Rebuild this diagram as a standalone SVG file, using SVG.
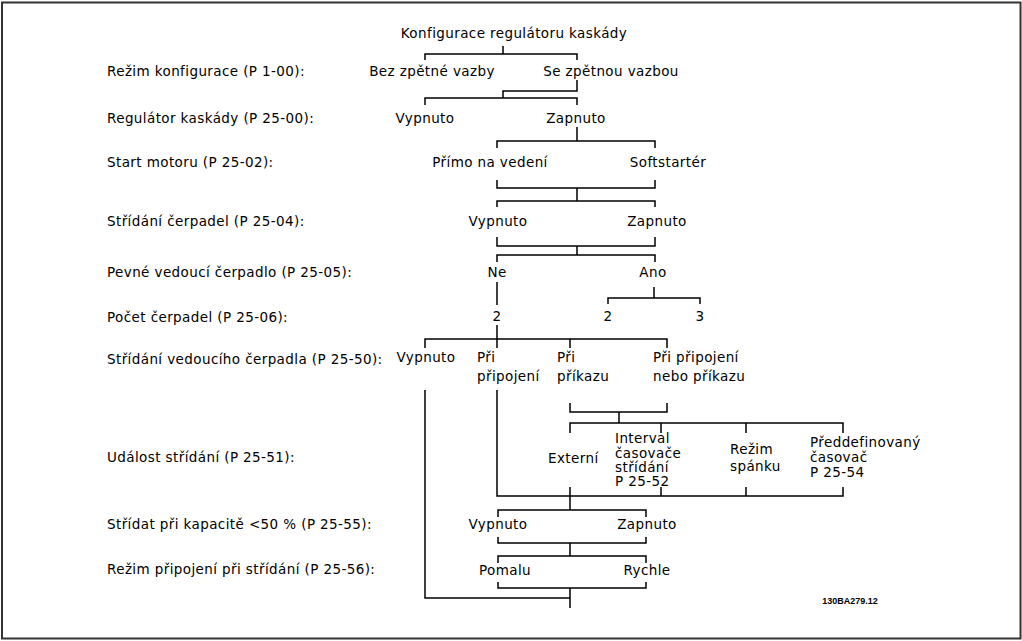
<svg xmlns="http://www.w3.org/2000/svg" width="1022" height="641" viewBox="0 0 1022 641">
<style>
text{font-family:"DejaVu Sans",Verdana,sans-serif;font-size:13.5px;letter-spacing:0.4px;fill:#000}
.c{text-anchor:middle}
.ln{fill:none;stroke:#000;stroke-width:1.5}
.code{font-family:"Liberation Sans",Arial,sans-serif;font-weight:bold;font-size:9px;letter-spacing:0}
</style>
<rect x="2" y="2.5" width="1018.5" height="636" fill="#fff" stroke="#333" stroke-width="2"/>
<g id="labels">
<text x="107" y="76">Režim konfigurace (P 1-00):</text>
<text x="107" y="123">Regulátor kaskády (P 25-00):</text>
<text x="107" y="167">Start motoru (P 25-02):</text>
<text x="107" y="226">Střídání čerpadel (P 25-04):</text>
<text x="107" y="277">Pevné vedoucí čerpadlo (P 25-05):</text>
<text x="107" y="322">Počet čerpadel (P 25-06):</text>
<text x="107" y="364">Střídání vedoucího čerpadla (P 25-50):</text>
<text x="107" y="462">Událost střídání (P 25-51):</text>
<text x="107" y="529">Střídat při kapacitě &lt;50 % (P 25-55):</text>
<text x="107" y="574">Režim připojení při střídání (P 25-56):</text>
</g>
<g id="connectors" class="ln">
<path d="M503 46V54M425 60V54H577V60"/>
<path d="M577 80V91H503V98M425 105V98H577V105"/>
<path d="M577 127V141M497 148V141H655V148"/>
<path d="M497 180V188H655V180M577 188V201M497 207V201H655V207"/>
<path d="M497 237V246H655V237M577 246V255M497 262V255H655V262"/>
<path d="M497 282V305"/>
<path d="M654 287V298M608 304V298H700V304"/>
<path d="M497 325V339M425 348V339H667V348M497 339V348M570 339V348"/>
<path d="M570 403V412H667V403M619 412V423M570 433V423H843V433M661 423V433M746 423V433"/>
<path d="M497 390V496H843V487M570 487V496M661 487V496M746 487V496"/>
<path d="M570 496V510M498 517V510H646V517"/>
<path d="M498 537V543H646V537M570 543V556M498 563V556H646V563"/>
<path d="M498 582V588H646V582M570 588V608"/>
<path d="M425 390V598H570"/>
</g>
<g id="n-root"><text class="c" x="514" y="38">Konfigurace regulátoru kaskády</text></g>
<g id="n-bez"><text class="c" x="432" y="76">Bez zpětné vazby</text></g>
<g id="n-se"><text class="c" x="611" y="76">Se zpětnou vazbou</text></g>
<g id="n-vyp1"><text class="c" x="425" y="123">Vypnuto</text></g>
<g id="n-zap1"><text class="c" x="576" y="123">Zapnuto</text></g>
<g id="n-primo"><text class="c" x="490" y="167">Přímo na vedení</text></g>
<g id="n-soft"><text class="c" x="668" y="167">Softstartér</text></g>
<g id="n-vyp2"><text class="c" x="498" y="226">Vypnuto</text></g>
<g id="n-zap2"><text class="c" x="657" y="226">Zapnuto</text></g>
<g id="n-ne"><text class="c" x="497" y="277">Ne</text></g>
<g id="n-ano"><text class="c" x="653" y="277">Ano</text></g>
<g id="n-2a"><text class="c" x="497" y="321">2</text></g>
<g id="n-2b"><text class="c" x="608" y="321">2</text></g>
<g id="n-3"><text class="c" x="700" y="321">3</text></g>
<g id="n-vyp3"><text class="c" x="426" y="362">Vypnuto</text></g>
<g id="n-pripoj"><text x="477" y="362">Při</text><text x="477" y="381">připojení</text></g>
<g id="n-prikaz"><text x="557" y="362">Při</text><text x="557" y="381">příkazu</text></g>
<g id="n-pripojprikaz"><text x="653" y="362">Při připojení</text><text x="653" y="381">nebo příkazu</text></g>
<g id="n-ext"><text x="548" y="463">Externí</text></g>
<g id="n-interval"><text x="615" y="443">Interval</text><text x="615" y="457.5">časovače</text><text x="615" y="472">střídání</text><text x="615" y="486">P 25-52</text></g>
<g id="n-spanek"><text x="730" y="454">Režim</text><text x="730" y="471">spánku</text></g>
<g id="n-preddef"><text x="810" y="447">Předdefinovaný</text><text x="810" y="462">časovač</text><text x="810" y="477">P 25-54</text></g>
<g id="n-vyp4"><text class="c" x="498" y="529">Vypnuto</text></g>
<g id="n-zap4"><text class="c" x="647" y="529">Zapnuto</text></g>
<g id="n-pomalu"><text class="c" x="505" y="575">Pomalu</text></g>
<g id="n-rychle"><text class="c" x="647" y="575">Rychle</text></g>
<text class="code c" x="850" y="604">130BA279.12</text>
</svg>
